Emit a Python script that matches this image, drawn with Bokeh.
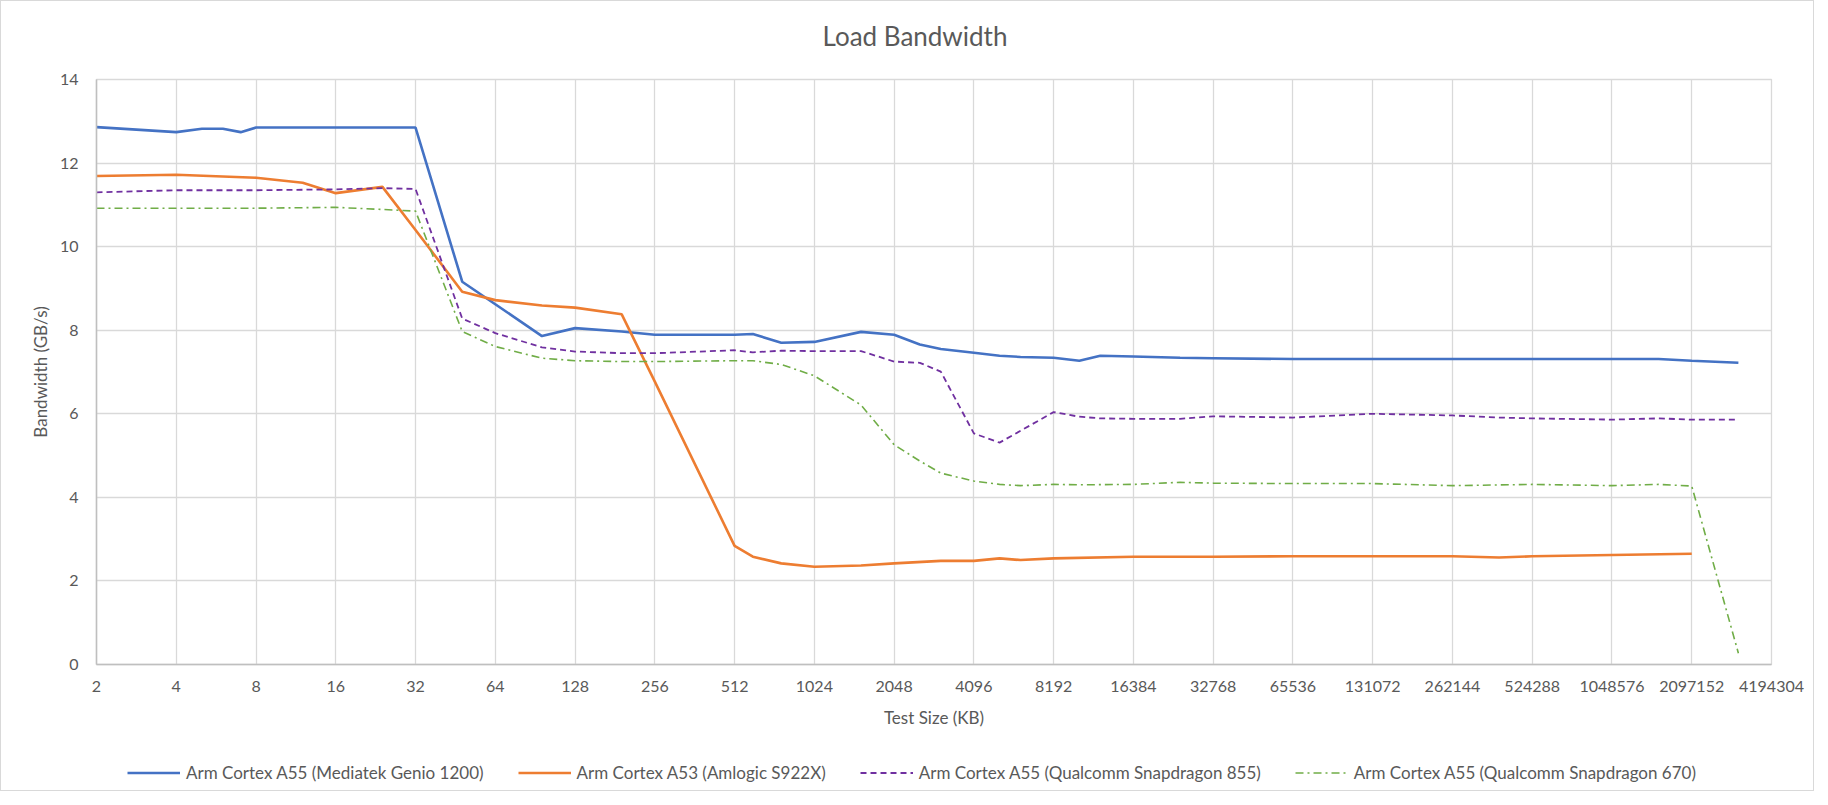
from bokeh.plotting import figure
from bokeh.layouts import column
from bokeh.core.properties import value
from bokeh.models import (Range1d, FixedTicker, PrintfTickFormatter, Legend, LegendItem)
from bokeh.embed import file_html
from bokeh.resources import INLINE

# ---------------- data ----------------
x_genio = [2, 4, 5, 6, 7, 8, 12, 16, 24, 32, 48, 96, 128, 192, 256, 512, 600, 768, 1024,
           1536, 2048, 2560, 3072, 4096, 5120, 6144, 8192, 10240, 12288, 16384, 24576,
           32768, 65536, 131072, 262144, 524288, 1048576, 1572864, 2097152, 3145728]
y_genio = [12.86, 12.74, 12.82, 12.82, 12.74, 12.85, 12.85, 12.85, 12.85, 12.85, 9.16, 7.86,
           8.05, 7.97, 7.89, 7.89, 7.91, 7.70, 7.72, 7.96, 7.89, 7.66, 7.55, 7.46, 7.39, 7.36,
           7.34, 7.27, 7.39, 7.37, 7.34, 7.33, 7.31, 7.31, 7.31, 7.31, 7.31, 7.31, 7.27, 7.22]

x_s922x = [2, 4, 8, 12, 16, 24, 32, 48, 64, 96, 128, 192, 256, 512, 600, 768, 1024, 1536,
           2048, 3072, 4096, 5120, 6144, 8192, 16384, 32768, 65536, 131072, 262144, 393216,
           524288, 1048576, 2097152]
y_s922x = [11.69, 11.72, 11.65, 11.53, 11.28, 11.43, 10.40, 8.92, 8.72, 8.59, 8.54, 8.38,
           6.77, 2.84, 2.58, 2.42, 2.34, 2.37, 2.42, 2.48, 2.48, 2.54, 2.50, 2.54, 2.58, 2.58,
           2.59, 2.59, 2.59, 2.56, 2.59, 2.62, 2.65]

x_sd855 = [2, 4, 8, 16, 24, 32, 48, 64, 96, 128, 192, 256, 512, 600, 768, 1024, 1536, 2048,
           2560, 3072, 4096, 5120, 8192, 10240, 12288, 16384, 24576, 32768, 65536, 131072,
           262144, 393216, 524288, 1048576, 1572864, 2097152, 3145728]
y_sd855 = [11.30, 11.35, 11.35, 11.37, 11.40, 11.38, 8.28, 7.93, 7.59, 7.49, 7.45, 7.45,
           7.52, 7.47, 7.51, 7.50, 7.50, 7.25, 7.22, 7.01, 5.53, 5.31, 6.04, 5.93, 5.89, 5.88,
           5.88, 5.94, 5.91, 6.00, 5.96, 5.91, 5.89, 5.86, 5.89, 5.86, 5.86]

x_sd670 = [2, 4, 8, 16, 24, 32, 48, 64, 96, 128, 192, 256, 512, 600, 768, 1024, 1536, 2048,
           2560, 3072, 4096, 5120, 6144, 8192, 10240, 16384, 24576, 32768, 65536, 131072,
           262144, 524288, 1048576, 1572864, 2097152, 3145728]
y_sd670 = [10.92, 10.92, 10.92, 10.94, 10.89, 10.85, 7.97, 7.61, 7.33, 7.27, 7.25, 7.25,
           7.27, 7.27, 7.18, 6.91, 6.21, 5.26, 4.87, 4.58, 4.39, 4.31, 4.28, 4.31, 4.30, 4.31,
           4.36, 4.34, 4.33, 4.33, 4.28, 4.31, 4.28, 4.31, 4.27, 0.27]

x_ticks = [2 ** k for k in range(1, 23)]
y_ticks = [0, 2, 4, 6, 8, 10, 12, 14]

chart_title = "Load Bandwidth"
series_names = ["Arm Cortex A55 (Mediatek Genio 1200)",
                "Arm Cortex A53 (Amlogic S922X)",
                "Arm Cortex A55 (Qualcomm Snapdragon 855)",
                "Arm Cortex A55 (Qualcomm Snapdragon 670)"]
series_colors = ["#4472C4", "#ED7D31", "#7030A0", "#70AD47"]
series_widths = [2.6, 2.6, 1.8, 1.6]
series_dashes = ["solid", "solid", "6 4", "8 4 2 4"]

FONT = "Lato"
TXT = "#595959"
GRID = "#d9d9d9"
W = 1812
FRAME_L, FRAME_R = 95, 1770   # column layout aligns all frames to the main chart's frame

# ---------------- title strip ----------------
pt = figure(width=W, height=60, x_range=Range1d(FRAME_L, FRAME_R), y_range=Range1d(0, 60),
            output_backend="svg", toolbar_location=None, min_border=0)
pt.axis.visible = False
pt.grid.visible = False
pt.outline_line_color = None
pt.text(x=[821], y=[26], text=[chart_title], text_align="left",
        text_baseline="middle", text_font=value(FONT), text_font_size="26px",
        text_color=TXT)

# ---------------- main chart ----------------
p = figure(width=W, height=693, x_axis_type="log",
           x_range=Range1d(2, 4194304), y_range=Range1d(0, 14),
           output_backend="svg", toolbar_location=None,
           min_border_left=FRAME_L, min_border_right=W - FRAME_R, min_border_top=18,
           min_border_bottom=90)

p.outline_line_color = GRID
p.outline_line_width = 1.3

p.xaxis.ticker = FixedTicker(ticks=x_ticks)
p.xaxis.formatter = PrintfTickFormatter(format="%d")
p.yaxis.ticker = FixedTicker(ticks=y_ticks)
for ax in (p.xaxis[0], p.yaxis[0]):
    ax.major_tick_line_color = None
    ax.minor_tick_line_color = None
    ax.axis_line_color = "#bfbfbf"
    ax.axis_line_width = 1.5
    ax.major_label_text_font = FONT
    ax.major_label_text_font_size = "16px"
    ax.major_label_text_color = TXT
    ax.axis_label_text_font = FONT
    ax.axis_label_text_font_size = "17px"
    ax.axis_label_text_font_style = "normal"
    ax.axis_label_text_color = TXT
p.xaxis.axis_label = "Test Size (KB)"
p.yaxis.axis_label = "Bandwidth (GB/s)"
p.xaxis.major_label_standoff = 10
p.xaxis.axis_label_standoff = 12
p.yaxis.major_label_standoff = 12
p.yaxis.axis_label_standoff = 6

p.xgrid.ticker = FixedTicker(ticks=x_ticks)
p.ygrid.ticker = FixedTicker(ticks=y_ticks)
for g in (p.xgrid[0], p.ygrid[0]):
    g.grid_line_color = GRID
    g.grid_line_width = 1.3

xs = [x_genio, x_s922x, x_sd855, x_sd670]
ys = [y_genio, y_s922x, y_sd855, y_sd670]
for xv, yv, c, w, d in zip(xs, ys, series_colors, series_widths, series_dashes):
    p.line(xv, yv, line_color=c, line_width=w, line_dash=d)

# ---------------- legend strip ----------------
pl = figure(width=W, height=36, x_range=Range1d(0, 1), y_range=Range1d(0, 1),
            output_backend="svg", toolbar_location=None, min_border=0)
pl.axis.visible = False
pl.grid.visible = False
pl.outline_line_color = None
items = []
for n, c, w, d in zip(series_names, series_colors, series_widths, series_dashes):
    # legend-key proxies kept outside the visible range of the strip
    r = pl.line([-5, -4], [-5, -4], line_color=c, line_width=w, line_dash=d)
    items.append(LegendItem(label=n, renderers=[r]))
legend = Legend(items=items, orientation="horizontal", location="center_left",
                glyph_width=53, glyph_height=20, label_standoff=6, spacing=34,
                label_text_font=FONT, label_text_font_size="17px",
                label_text_color=TXT, border_line_alpha=0,
                background_fill_alpha=0, padding=0, margin=31)
pl.add_layout(legend, "center")

layout = column(pt, p, pl, spacing=0)
layout.styles = {"border": "1px solid #d9d9d9"}

open("out.html", "w").write(file_html(layout, INLINE))
